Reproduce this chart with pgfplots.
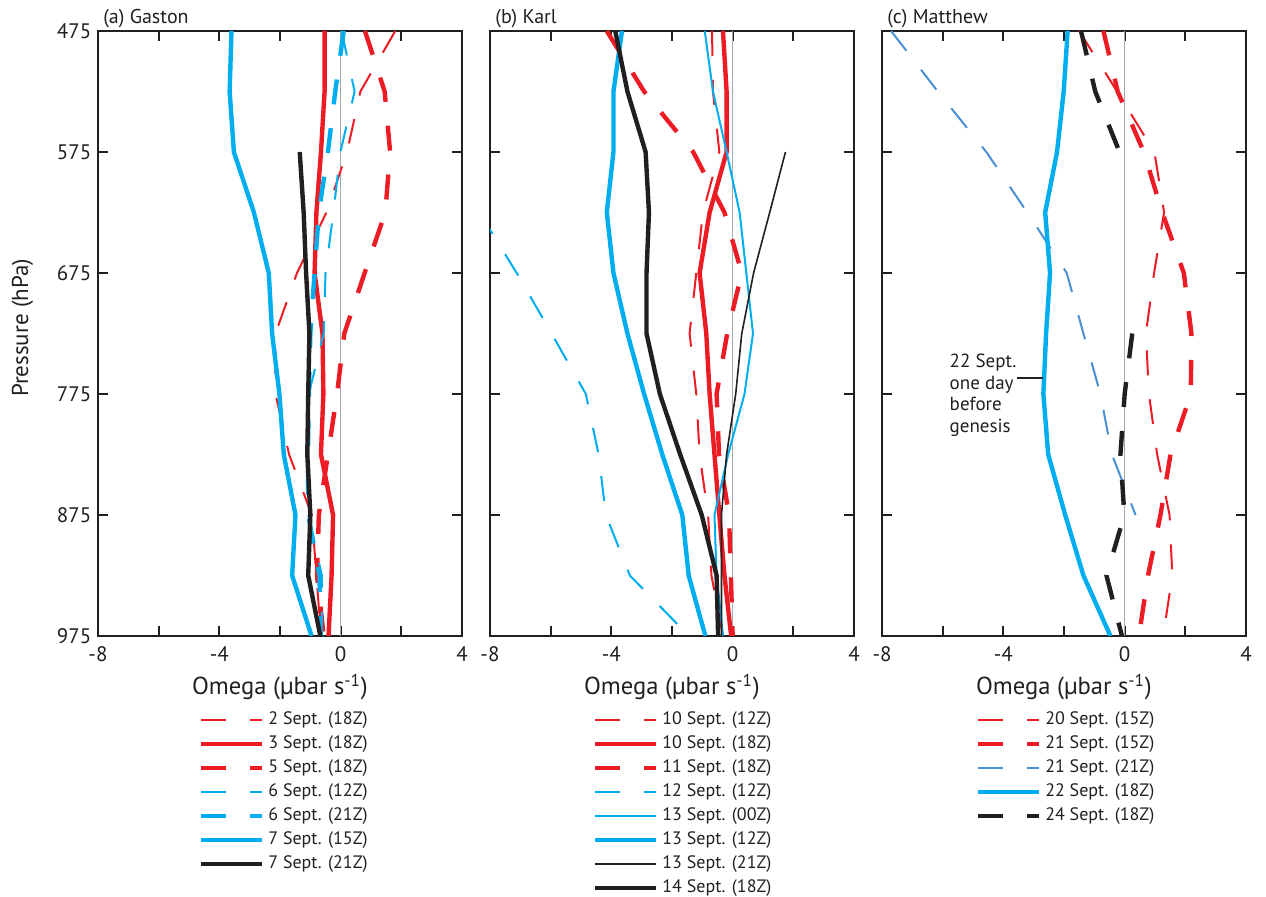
\documentclass[border=0pt]{standalone}
\usepackage{pgfplots}
\pgfplotsset{compat=1.18}
\usepackage{fontspec}
\setmainfont{PT Sans}
\definecolor{cred}{HTML}{ED1C24}
\definecolor{ccyan}{HTML}{00AEEF}
\definecolor{cblk}{HTML}{231F20}
\definecolor{csteel}{HTML}{4A90D2}
\definecolor{axcol}{HTML}{231F20}
\definecolor{zgray}{HTML}{A7A9AC}
\pgfplotsset{
  omega/.style={
    width=182pt, height=302.5pt, scale only axis,
    xmin=-8, xmax=4, ymin=475, ymax=975, y dir=reverse,
    xtick={-8,-6,-4,-2,0,2,4}, xticklabels={-8,,-4,,0,,4},
    ytick={475,575,675,775,875,975},
    tick align=inside, tick pos=both, major tick length=5pt,
    axis line style={line width=1pt, color=axcol},
    every tick/.style={line width=1pt, color=axcol},
    xticklabel style={font=\fontsize{10.5}{12}\selectfont, anchor=base, inner sep=0pt, yshift=-12.8pt, text=axcol},
    yticklabel style={font=\fontsize{10.5}{12}\selectfont, anchor=east, inner sep=0pt, xshift=-3.2pt, text=axcol},
    clip mode=individual,
    legend cell align=left,
    legend image code/.code={\draw[##1] (0pt,0pt) -- (30.5pt,0pt);},
    legend style={draw=none, fill=none, inner sep=0pt, outer sep=0pt,
      font=\fontsize{9}{10}\selectfont, text=axcol,
      row sep=3.5pt,
      nodes={inner ysep=0pt, inner xsep=2pt, text height=6.5pt, text depth=2pt},
      anchor=north west},
  },
  thn/.style={line width=1pt},
  thk/.style={line width=2.2pt},
  dsh/.style={dash pattern=on 12.5pt off 12pt},
}
\newcommand{\omegalabel}{\node[anchor=base, inner sep=0pt, font=\fontsize{12.3}{14}\selectfont, text=axcol] at (rel axis cs:0.5,0) [yshift=-29.5pt] {Omega (µbar s\textsuperscript{-1})};}
\newcommand{\paneltitle}[1]{\node[anchor=base west, inner sep=0pt, font=\fontsize{10}{12}\selectfont, text=axcol] at (rel axis cs:0,1) [xshift=2.5pt, yshift=3.8pt] {#1};}
\newcommand{\zeroline}{\addplot[zgray, line width=0.6pt, forget plot] coordinates {(0,475) (0,975)};}
\begin{document}
\begin{tikzpicture}
\path[use as bounding box] (0,0) rectangle (633pt,448.5pt);
% ---------------- (a) Gaston
\begin{axis}[omega, at={(49pt,130.5pt)}, anchor=south west,
  yticklabels={475,575,675,775,875,975},
  legend style={at={(rel axis cs:0.2775,-0.1248)}}]
\zeroline
\addplot[cred, thn, dsh] coordinates {(1.8,475) (0.65,525) (0.21,575) (-0.47,625) (-1.44,675) (-2.15,725) (-2.15,775) (-1.7,825) (-0.95,875) (-0.8,925) (-0.65,975)};
\addlegendentry{2 Sept. (18Z)}
\addplot[cred, thk] coordinates {(-0.53,475) (-0.53,525) (-0.65,575) (-0.8,625) (-0.86,675) (-0.6,725) (-0.57,775) (-0.65,825) (-0.25,875) (-0.3,925) (-0.4,975)};
\addlegendentry{3 Sept. (18Z)}
\addplot[cred, thk, dsh] coordinates {(0.8,475) (1.45,525) (1.63,575) (1.47,625) (0.79,675) (0.12,725) (-0.12,775) (-0.42,825) (-0.72,875) (-0.78,925) (-0.56,975)};
\addlegendentry{5 Sept. (18Z)}
\addplot[ccyan, thn, dsh] coordinates {(0.03,475) (0.46,525) (-0.01,575) (-0.24,625) (-0.5,675) (-0.56,725) (-1.05,775) (-1.1,825) (-1.07,875) (-0.62,925) (-0.62,975)};
\addlegendentry{6 Sept. (12Z)}
\addplot[ccyan, thk, dsh] coordinates {(0.1,475) (-0.18,525) (-0.42,575) (-0.72,625) (-0.86,675) (-1.0,725) (-1.05,775) (-1.08,825) (-1.07,875) (-0.7,925) (-0.65,975)};
\addlegendentry{6 Sept. (21Z)}
\addplot[ccyan, thk] coordinates {(-3.6,475) (-3.66,525) (-3.52,575) (-2.86,625) (-2.37,675) (-2.26,725) (-2.02,775) (-1.875,825) (-1.49,875) (-1.6,925) (-0.96,975)};
\addlegendentry{7 Sept. (15Z)}
\addplot[cblk, thk] coordinates {(-1.35,575) (-1.22,625) (-1.14,675) (-1.03,725) (-1.07,775) (-1.1,825) (-1.0,875) (-1.07,925) (-0.67,975)};
\addlegendentry{7 Sept. (21Z)}
\paneltitle{(a) Gaston}
\node[xshift=-37.75pt, yshift=2.75pt, rotate=90, anchor=center, inner sep=0pt, font=\fontsize{11.5}{13}\selectfont, text=axcol] at (rel axis cs:0,0.5) {Pressure (hPa)};
\omegalabel
\end{axis}
% ---------------- (b) Karl
\begin{axis}[omega, at={(245pt,130.5pt)}, anchor=south west,
  yticklabels={},
  legend style={at={(rel axis cs:0.283,-0.1248)}}]
\zeroline
\addplot[cred, thn, dsh] coordinates {(-0.68,475) (-0.65,525) (-0.44,575) (-0.98,625) (-1.2,675) (-1.42,725) (-1.2,775) (-1.09,825) (-0.81,875) (-0.7,925) (-0.32,975)};
\addlegendentry{10 Sept. (12Z)}
\addplot[cred, thk] coordinates {(-0.32,475) (-0.2,525) (-0.2,575) (-0.76,625) (-1.09,675) (-0.87,725) (-0.76,775) (-0.6,825) (-0.44,875) (-0.27,925) (-0.05,975)};
\addlegendentry{10 Sept. (18Z)}
\addplot[cred, thk, dsh] coordinates {(-4.15,475) (-2.92,525) (-1.3,575) (-0.27,625) (0.3,675) (-0.18,725) (-0.53,775) (-0.45,825) (-0.12,875) (-0.06,925) (0.0,975)};
\addlegendentry{11 Sept. (18Z)}
\addplot[ccyan, thn, dsh] coordinates {(-8.35,625) (-7.12,675) (-5.97,725) (-4.84,775) (-4.42,825) (-4.18,875) (-3.39,925) (-1.44,975)};
\addlegendentry{12 Sept. (12Z)}
\addplot[ccyan, thn] coordinates {(-0.92,475) (-0.65,525) (-0.2,575) (0.23,625) (0.45,675) (0.67,725) (0.39,775) (-0.15,825) (-0.6,875) (-0.53,925) (-0.32,975)};
\addlegendentry{13 Sept. (00Z)}
\addplot[ccyan, thk] coordinates {(-3.65,475) (-3.93,525) (-3.93,575) (-4.15,625) (-3.93,675) (-3.47,725) (-2.92,775) (-2.32,825) (-1.66,875) (-1.45,925) (-0.9,975)};
\addlegendentry{13 Sept. (12Z)}
\addplot[cblk, line width=0.8pt] coordinates {(1.74,575) (1.22,625) (0.69,675) (0.3,725) (0.1,775) (-0.2,825) (-0.37,875) (-0.37,925) (-0.37,975)};
\addlegendentry{13 Sept. (21Z)}
\addplot[cblk, thk] coordinates {(-3.87,475) (-3.47,525) (-2.87,575) (-2.76,625) (-2.84,675) (-2.84,725) (-2.4,775) (-1.73,825) (-1.02,875) (-0.53,925) (-0.48,975)};
\addlegendentry{14 Sept. (18Z)}
\paneltitle{(b) Karl}
\omegalabel
\end{axis}
% ---------------- (c) Matthew
\begin{axis}[omega, at={(441pt,130.5pt)}, anchor=south west,
  yticklabels={}, unbounded coords=jump,
  legend style={at={(rel axis cs:0.258,-0.1248)}}]
\zeroline
\addplot[cred, thn, dsh] coordinates {(-1.5,475) (-0.25,525) (0.98,575) (1.3,625) (0.97,675) (0.7,725) (0.8,775) (1.07,825) (1.48,875) (1.57,925) (1.27,975)};
\addlegendentry{20 Sept. (15Z)}
\addplot[cred, thk, dsh] coordinates {(-0.7,475) (-0.23,525) (0.63,575) (1.24,625) (1.95,675) (2.2,725) (2.18,775) (1.51,825) (1.18,875) (0.77,925) (0.47,975)};
\addlegendentry{21 Sept. (15Z)}
\addplot[csteel, thn, dsh] coordinates {(-7.7,475) (-6.16,525) (-4.56,575) (-3.21,625) (-1.91,675) (-1.36,725) (-0.8,775) (-0.42,825) (0.36,875)};
\addlegendentry{21 Sept. (21Z)}
\addplot[ccyan, thk] coordinates {(-1.88,475) (-2.01,525) (-2.23,575) (-2.62,625) (-2.46,675) (-2.59,725) (-2.68,775) (-2.52,825) (-1.96,875) (-1.36,925) (-0.47,975)};
\addlegendentry{22 Sept. (18Z)}
\addplot[cblk, thk, dsh] coordinates {(-1.44,475) (-0.97,525) (-0.17,575) (nan,625) (nan,675) (0.25,725) (0.0,775) (-0.14,825) (-0.01,875) (-0.6,925) (-0.09,975)};
\addlegendentry{24 Sept. (18Z)}
\paneltitle{(c) Matthew}
\node[anchor=west, align=left, inner sep=0pt, font=\fontsize{9.5}{10.8}\selectfont, text=axcol] at (axis cs:-5.78,776) {22 Sept.\\one day\\before\\genesis};
\draw[cblk, line width=1pt] (axis cs:-3.54,762) -- (axis cs:-2.70,762);
\omegalabel
\end{axis}
\end{tikzpicture}
\end{document}
